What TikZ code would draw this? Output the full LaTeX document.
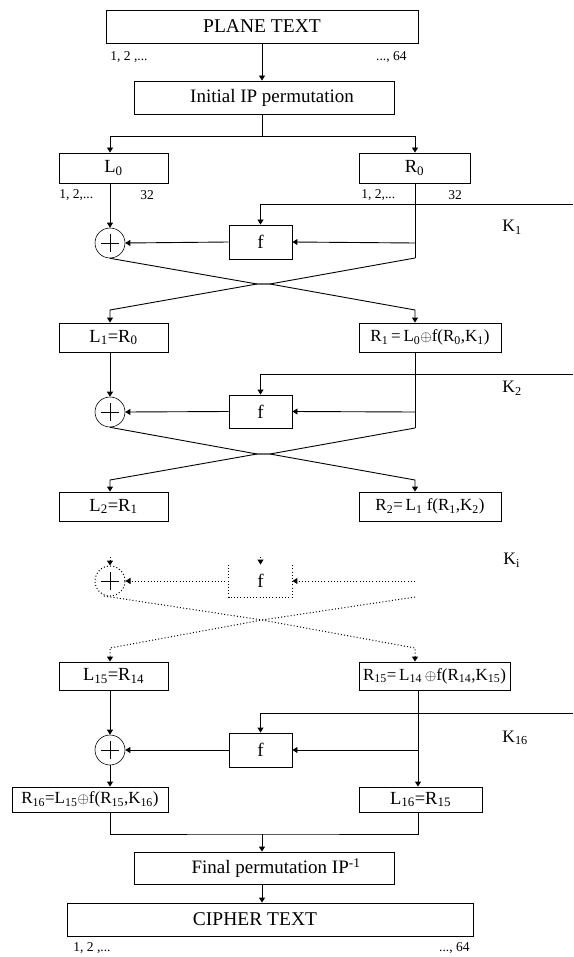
\documentclass[tikz,border=0pt]{standalone}
\usepackage{fontspec}
\setmainfont{Liberation Serif}
\usetikzlibrary{arrows.meta}
\newcommand{\sbs}[1]{\textsubscript{#1}}
\newcommand{\sps}[1]{\textsuperscript{#1}}
\newcommand{\xo}{\scalebox{0.85}{$\oplus$}}
\begin{document}
\begin{tikzpicture}[x=1pt,y=-1pt, line width=0.9pt,
  box/.style={draw, rectangle, inner sep=0pt, font=\fontsize{18.5}{18.5}\selectfont},
  longbox/.style={draw, rectangle, inner sep=0pt, font=\fontsize{17}{17}\selectfont},
  bigbox/.style={draw, rectangle, inner sep=0pt, font=\fontsize{19.5}{19.5}\selectfont},
  midbox/.style={draw, rectangle, inner sep=0pt, font=\fontsize{19}{19}\selectfont},
  fbox/.style={draw, rectangle, inner sep=0pt, minimum width=63pt, font=\fontsize{19}{19}\selectfont},
  xorc/.style={draw, circle, minimum size=30pt, inner sep=0pt, line width=0.6pt,
    path picture={\draw[solid, line width=0.9pt]
      ([xshift=-9pt]path picture bounding box.center) -- ([xshift=9pt]path picture bounding box.center)
      ([yshift=-9pt]path picture bounding box.center) -- ([yshift=9pt]path picture bounding box.center);}},
  arr/.style={-{Triangle[length=5pt,width=6pt]}},
  small/.style={font=\fontsize{13.5}{13.5}\selectfont, inner sep=0pt},
  klbl/.style={font=\fontsize{17.5}{17.5}\selectfont, inner sep=0pt, anchor=west},
  dots/.style={line width=1pt, dash pattern=on 1pt off 2.2pt}
]
\useasboundingbox (0,0) rectangle (573,957);
\coordinate (cL) at (110,0);
\coordinate (cR) at (415,0);
\coordinate (cR2) at (418,0);

% top
\node[bigbox, minimum width=312pt, minimum height=33pt] (plain) at (262,26.5) {PLANE TEXT};
\node[small, anchor=west] (pl1) at (110,57) {1, 2 ,...};
\node[small, anchor=east] (pl2) at (407,57) {..., 64};
\node[midbox, minimum width=260pt, minimum height=33pt] (ip) at (264,97.5) {\hspace*{16pt}Initial IP permutation};
\draw[arr] (plain.south) -- (plain.south |- ip.north);
\coordinate (sp) at (262,136);
\draw (ip.south -| sp) -- (sp);

\node[box, minimum width=109pt, minimum height=30pt] (L0) at (113.5,168) {L\sbs{0}};
\node[box, minimum width=111pt, minimum height=30pt] (R0) at (414.5,168) {R\sbs{0}};
\draw[arr] (sp) -| (cL |- L0.north);
\draw[arr] (sp) -| (cR |- R0.north);
\node[small, anchor=west] (l0a) at (59,195) {1, 2,...};
\node[small, anchor=west] (l0b) at (140,195) {32};
\node[small, anchor=west] (r0a) at (361,195) {1, 2,...};
\node[small, anchor=west] (r0b) at (448,195) {32};

% round 1
\node[xorc] (x1) at (110,243) {};
\node[fbox, minimum height=34pt] (f1) at (260.5,242) {f};
\coordinate (k1) at (573,204);
\node[klbl] (K1) at (502,227) {K\sbs{1}};
\draw[arr] (cL |- L0.south) -- (x1.north);
\draw[arr] (k1) -| (f1.north);
\coordinate (r1a) at (415,243);
\coordinate (r1b) at (415,258);
\draw (cR |- R0.south) -- (r1b);
\draw[arr] (r1a) -- (f1.east);
\draw[arr] (f1.west) -- (x1.east);
\coordinate (c1l) at (257,284);
\coordinate (c1r) at (270,284);
\coordinate (d1l) at (110,310);
\coordinate (d1r) at (415,310);

\node[box, minimum width=109pt, minimum height=29pt] (L1) at (113.5,337.5) {L\sbs{1}=R\sbs{0}};
\node[longbox, minimum width=142pt, minimum height=29pt] (R1) at (430,337.5) {R\sbs{1}\,=\,L\sbs{0}\xo f(R\sbs{0},K\sbs{1})};
\draw[arr] (r1b) -- (c1r) -- (c1l) -- (d1l) -- (cL |- L1.north);
\draw[arr] (x1.south) -- (c1l) -- (c1r) -- (d1r) -- (cR |- R1.north);

% round 2
\node[xorc] (x2) at (110,412) {};
\node[fbox, minimum height=33pt] (f2) at (260.5,411.5) {f};
\coordinate (k2) at (573,374);
\node[klbl] (K2) at (502,388) {K\sbs{2}};
\draw[arr] (cL |- L1.south) -- (x2.north);
\draw[arr] (k2) -| (f2.north);
\coordinate (r2a) at (415,412);
\coordinate (r2b) at (415,428);
\draw (cR |- R1.south) -- (r2b);
\draw[arr] (r2a) -- (f2.east);
\draw[arr] (f2.west) -- (x2.east);
\coordinate (c2l) at (257,454);
\coordinate (c2r) at (270,454);
\coordinate (d2l) at (110,480);
\coordinate (d2r) at (415,480);

\node[box, minimum width=109pt, minimum height=29pt] (L2) at (113.5,506.5) {L\sbs{2}=R\sbs{1}};
\node[longbox, minimum width=142pt, minimum height=29pt] (R2) at (430,506.5) {R\sbs{2}=\,L\sbs{1} f(R\sbs{1},K\sbs{2})};
\draw[arr] (r2b) -- (c2r) -- (c2l) -- (d2l) -- (cL |- L2.north);
\draw[arr] (x2.south) -- (c2l) -- (c2r) -- (d2r) -- (cR |- R2.north);

% dotted round i
\node[xorc, dots] (xi) at (110,581) {};
\node[inner sep=0pt, minimum width=63pt, minimum height=32pt, font=\fontsize{19}{19}\selectfont] (fi) at (260.5,581) {f};
\draw[dots] (fi.north west) -- (fi.south west) -- (fi.south east) -- (fi.north east);
\coordinate (ti) at (110,557);
\coordinate (tf) at (260.5,557);
\draw[arr, dots] (ti) -- (xi.north);
\draw[arr, dots] (tf) -- (fi.north);
\node[klbl] (Ki) at (503,560) {K\sbs{i}};
\coordinate (ria) at (415,581);
\draw[arr, dots] (ria) -- (fi.east);
\draw[arr, dots] (fi.west) -- (xi.east);
\coordinate (eil) at (104,596);
\coordinate (eir) at (415,597);
\coordinate (ci) at (262,620);
\coordinate (dil) at (110,648);
\coordinate (dir) at (415,648);

\node[box, minimum width=109pt, minimum height=28pt] (L15) at (113.5,676) {L\sbs{15}=R\sbs{14}};
\node[longbox, minimum width=151pt, minimum height=28pt] (R15) at (434.5,676) {R\sbs{15}=\,L\sbs{14}\,\xo f(R\sbs{14},K\sbs{15})};
\draw[arr, dots] (eir) -- (ci) -- (dil) -- (cL |- L15.north);
\draw[arr, dots] (eil) -- (ci) -- (dir) -- (cR |- R15.north);

% round 16
\node[xorc] (x16) at (110,750) {};
\node[fbox, minimum height=34pt] (f16) at (260.5,750) {f};
\coordinate (k16) at (573,713);
\node[klbl] (K16) at (502,738) {K\sbs{16}};
\node[longbox, minimum width=156pt, minimum height=25pt] (R16) at (90,799.5) {R\sbs{16}=L\sbs{15}\xo f(R\sbs{15},K\sbs{16})};
\node[box, minimum width=123pt, minimum height=25pt] (L16) at (420.5,799.5) {L\sbs{16}=R\sbs{15}};
\draw[arr] (cL |- L15.south) -- (x16.north);
\draw[arr] (x16.south) -- (cL |- R16.north);
\draw[arr] (k16) -| (f16.north);
\draw[arr] (cR2 |- R15.south) -- (cR2 |- L16.north);
\coordinate (r16a) at (418,750);
\draw[arr] (r16a) -- (f16.east);
\draw[arr] (f16.west) -- (x16.east);

% bottom
\coordinate (m) at (262,834);
\node[midbox, minimum width=260pt, minimum height=32pt] (fin) at (264,868) {\hspace*{24pt}Final permutation IP\sps{-1}};
\node[bigbox, minimum width=406pt, minimum height=33pt] (ciph) at (270,919.5) {CIPHER TEXT\hspace*{30pt}};
\draw (cL |- R16.south) |- (m) -| (cR2 |- L16.south);
\draw[arr] (m) -- (m |- fin.north);
\draw[arr] (fin.south -| m) -- (m |- ciph.north);
\node[small, anchor=west] (cp1) at (73,948) {1, 2 ,...};
\node[small, anchor=east] (cp2) at (470,948) {..., 64};
\end{tikzpicture}
\end{document}
